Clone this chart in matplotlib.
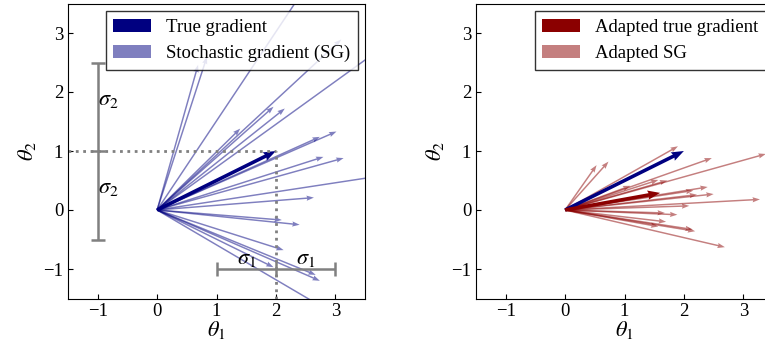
import numpy as np
import matplotlib
matplotlib.use('Agg')
import matplotlib.pyplot as plt

plt.rcParams['font.family'] = ['Liberation Serif', 'DejaVu Serif']
plt.rcParams['mathtext.fontset'] = 'stix'
plt.rcParams['font.size'] = 13

# true gradient
true_grad = [2.0, 1.0]
adapted_true_grad = [1.60, 0.29]

# stochastic gradients (end points)
sg_x = [2.45, 0.69, 0.84, 3.10, 4.20, 2.15, 1.96, 1.40, 3.02, 2.74, 2.80,
        3.14, 4.10, 2.64, 2.10, 2.40, 2.13, 1.96, 2.67, 2.74, 3.30]
sg_y = [3.70, 2.46, 2.60, 2.89, 3.05, 1.72, 1.75, 1.38, 1.33, 1.24, 0.90,
        0.88, 0.63, 0.21, -0.17, -0.25, -0.68, -0.97, -1.10, -1.20, -1.95]

# adapted stochastic gradients
asg_x = [1.90, 0.53, 0.73, 2.47, 3.38, 1.72, 1.57, 1.10, 2.40, 2.16, 2.22,
         2.50, 3.28, 2.09, 1.68, 1.89, 1.70, 1.57, 2.15, 2.19, 2.69]
asg_y = [1.08, 0.76, 0.82, 0.88, 0.95, 0.50, 0.51, 0.41, 0.39, 0.33, 0.26,
         0.27, 0.18, 0.07, -0.05, -0.08, -0.20, -0.28, -0.33, -0.36, -0.63]

ticks = [-1, 0, 1, 2, 3]

fig = plt.figure(figsize=(7.65, 3.52), dpi=100)
ax1 = fig.add_axes([68/765, 53.5/352, 297/765, 295/352])
ax2 = fig.add_axes([476/765, 53.5/352, 297/765, 295/352])

sg_kw = dict(angles='xy', scale_units='xy', scale=1, width=0.005,
             headwidth=3.5, headlength=5, headaxislength=4.5)
tg_kw = dict(angles='xy', scale_units='xy', scale=1, width=0.012,
             headwidth=2.6, headlength=3.5, headaxislength=3.2)

n = len(sg_x)
# left panel
q_sg = ax1.quiver(np.zeros(n), np.zeros(n), sg_x, sg_y, color='navy', alpha=0.5,
                  label='Stochastic gradient (SG)', **sg_kw)
q_tg = ax1.quiver([0], [0], [true_grad[0]], [true_grad[1]], color='navy',
                  label='True gradient', **tg_kw)

grey = 'grey'
ax1.plot([-1.5, 2], [1, 1], ls=':', color=grey, lw=2)
ax1.plot([2, 2], [-1.5, 1], ls=':', color=grey, lw=2)
ax1.errorbar([-1], [1], yerr=[1.5], color=grey, lw=1.8, capsize=5, capthick=1.8)
ax1.errorbar([2], [-1], xerr=[1], color=grey, lw=1.8, capsize=5, capthick=1.8)
ax1.plot([2, 2], [-1.1, -0.9], color=grey, lw=1.8)
ax1.plot([-1.1, -0.9], [1, 1], color=grey, lw=1.8)
ax1.text(-0.82, 1.86, r'$\sigma_2$', fontsize=16, ha='center', va='center')
ax1.text(-0.82, 0.37, r'$\sigma_2$', fontsize=16, ha='center', va='center')
ax1.text(1.5, -0.84, r'$\sigma_1$', fontsize=16, ha='center', va='center')
ax1.text(2.5, -0.84, r'$\sigma_1$', fontsize=16, ha='center', va='center')

ax1.legend(handles=[q_tg, q_sg], loc='upper right', fancybox=False,
           edgecolor='black', handlelength=2.0, fontsize=13.5, borderaxespad=0.4)

# right panel
q_asg = ax2.quiver(np.zeros(n), np.zeros(n), asg_x, asg_y, color='darkred', alpha=0.5,
                   label='Adapted SG', **sg_kw)
ax2.quiver([0], [0], [true_grad[0]], [true_grad[1]], color='navy', **tg_kw)
q_atg = ax2.quiver([0], [0], [adapted_true_grad[0]], [adapted_true_grad[1]],
                   color='darkred', label='Adapted true gradient', **tg_kw)
ax2.legend(handles=[q_atg, q_asg], loc='upper right', fancybox=False,
           edgecolor='black', handlelength=2.0, fontsize=13.5, borderaxespad=0.4)

for ax in (ax1, ax2):
    ax.set_xlim(-1.5, 3.5)
    ax.set_ylim(-1.5, 3.5)
    ax.set_xticks(ticks)
    ax.set_yticks(ticks)
    ax.tick_params(direction='in', labelsize=13.5)
    ax.set_xlabel(r'$\theta_1$', fontsize=16, labelpad=-1)
    ax.set_ylabel(r'$\theta_2$', fontsize=16)

fig.savefig('out.png', dpi=100)
